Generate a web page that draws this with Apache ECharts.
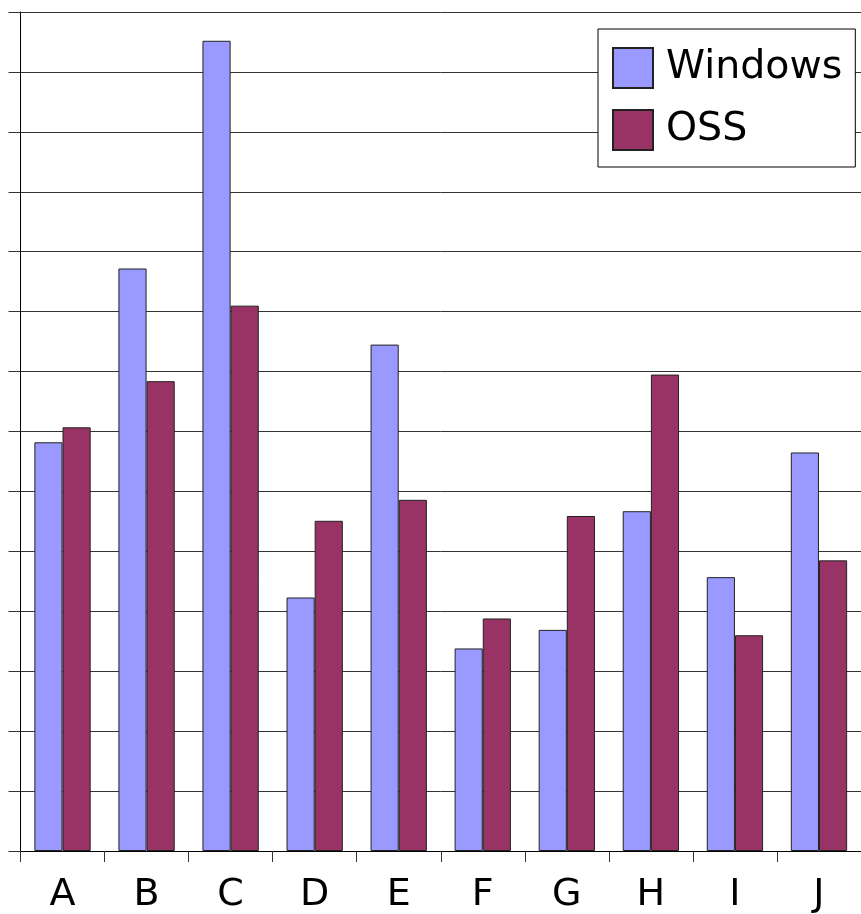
<!DOCTYPE html>
<html>
<head>
<meta charset="utf-8">
<script src="https://cdn.jsdelivr.net/npm/echarts@6/dist/echarts.min.js"></script>
<style>html,body{margin:0;padding:0;background:#fff}#c{width:861px;height:914px}</style>
</head>
<body>
<div id="c"></div>
<script>
var categories = ['A','B','C','D','E','F','G','H','I','J'];
var windowsValues = [6.82, 9.72, 13.52, 4.23, 8.45, 3.38, 3.69, 5.67, 4.57, 6.65];
var ossValues = [7.07, 7.84, 9.10, 5.51, 5.86, 3.88, 5.59, 7.95, 3.60, 4.85];
var seriesNames = ['Windows', 'OSS'];

var chart = echarts.init(document.getElementById('c'), null, {renderer: 'canvas'});
var font = 'DejaVu Sans';
chart.setOption({
  animation: false,
  backgroundColor: '#fff',
  grid: {left: 20.5, right: -4, top: 12, bottom: 54, containLabel: false},
  legend: {
    orient: 'vertical',
    left: 598, top: 29,
    padding: [18, 13, 16, 14],
    itemWidth: 40, itemHeight: 40, itemGap: 20,
    icon: 'rect',
    backgroundColor: '#fff',
    borderColor: '#000', borderWidth: 1,
    textStyle: {fontFamily: font, fontSize: 39.5, color: '#000', padding: [0,0,0,8]},
    data: seriesNames
  },
  xAxis: {
    type: 'category',
    data: categories,
    boundaryGap: true,
    axisLine: {lineStyle: {color: '#000', width: 1}},
    axisTick: {show: true, length: 11, alignWithLabel: false, lineStyle: {color: '#333'}},
    axisLabel: {fontFamily: font, fontSize: 38, color: '#000', margin: 25}
  },
  yAxis: {
    type: 'value',
    min: 0, max: 14, interval: 1,
    axisLine: {show: true, lineStyle: {color: '#000', width: 1}},
    axisTick: {show: true, inside: false, length: 12, lineStyle: {color: '#333'}},
    axisLabel: {show: false},
    splitLine: {show: true, lineStyle: {color: '#333', width: 1}}
  },
  series: [
    {
      name: seriesNames[0], type: 'bar', data: windowsValues,
      barGap: '0%', barCategoryGap: '33%',
      itemStyle: {color: '#9999FF', borderColor: '#222', borderWidth: 1}
    },
    {
      name: seriesNames[1], type: 'bar', data: ossValues,
      barGap: '0%', barCategoryGap: '33%',
      itemStyle: {color: '#993366', borderColor: '#222', borderWidth: 1}
    }
  ]
});
</script>
</body>
</html>
